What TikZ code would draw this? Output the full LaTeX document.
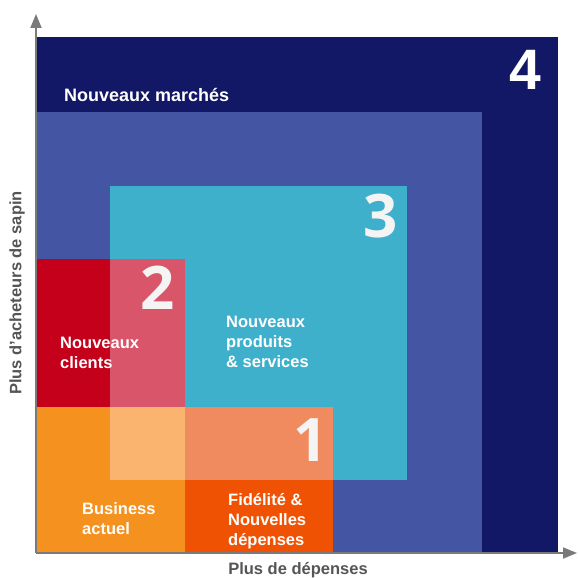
\documentclass[tikz,border=0pt]{standalone}
\usepackage{fontspec}
\setmainfont{Liberation Sans}
\newfontfamily\numfont{Open Sans}
\usepackage{xcolor}
\usepackage{tikz}
\usetikzlibrary{arrows.meta, positioning}
\definecolor{navy}{HTML}{121866}
\definecolor{midblue}{HTML}{4455A4}
\definecolor{cyanzone}{HTML}{3EB0CC}
\definecolor{redzone}{HTML}{C5001A}
\definecolor{pinkzone}{HTML}{D9566A}
\definecolor{orangezone}{HTML}{F5911E}
\definecolor{lightorange}{HTML}{FBB46F}
\definecolor{fireorange}{HTML}{EF5203}
\definecolor{salmon}{HTML}{F08B5F}
\definecolor{axisgray}{HTML}{7A7A7A}
\definecolor{axistext}{HTML}{555555}
\definecolor{numwhite}{HTML}{F4F4F4}

\begin{document}
\begin{tikzpicture}[
    x=1pt, y=-1pt,
    zonetext/.style={text=white, font=\bfseries\fontsize{16.5}{20}\selectfont, align=left, anchor=west, inner sep=0pt},
    bignum/.style={text=numwhite, font=\numfont\bfseries\fontsize{60}{60}\selectfont, inner sep=0pt},
    axislabel/.style={text=axistext, font=\bfseries\fontsize{16.5}{20}\selectfont, inner sep=0pt},
    axis/.style={draw=axisgray, line width=1.8pt, -{Triangle[length=14pt, width=11pt]}}
]
    \useasboundingbox (0,0) rectangle (578,578);

    % Zones
    \fill[navy] (36,37) rectangle (558,553);
    \fill[midblue] (36,112) rectangle (482,553);
    \fill[cyanzone] (110,186) rectangle (407,480);
    \fill[redzone] (36,259) rectangle (185,407);
    \fill[pinkzone] (110,259) rectangle (185,407);
    \fill[orangezone] (36,407) rectangle (185,553);
    \fill[lightorange] (110,407) rectangle (185,480);
    \fill[fireorange] (185,407) rectangle (333,553);
    \fill[salmon] (185,407) rectangle (333,480);

    % Nodes
    \node[zonetext, font=\bfseries\fontsize{18}{20}\selectfont] (markets) at (64,95) {Nouveaux marchés};
    \node[zonetext] (clients) at (60,353) {Nouveaux\\clients};
    \node[zonetext] (products) at (226,342) {Nouveaux\\produits\\\& services};
    \node[zonetext] (business) at (82,519) {Business\\actuel};
    \node[zonetext] (loyalty) at (228,521) {Fidélité \&\\Nouvelles\\dépenses};

    \node[bignum, font=\bfseries\fontsize{57}{57}\selectfont, text=white] (n4) at (525,70) {4};
    \node[bignum] (n3) at (381,216) {3};
    \node[bignum] (n2) at (158,288) {2};
    \node[bignum] (n1) at (311,440) {1};

    % Axes
    \coordinate (origin) at (36,553);
    \coordinate (ytip) at (36,14);
    \coordinate (xtip) at (577,553);
    \path[axis] (origin) -- (ytip);
    \path[axis] (origin) -- (xtip);

    \node[axislabel] (xlabel) at (298,570) {Plus de dépenses};
    \node[axislabel, rotate=90] (ylabel) at (17,293) {Plus d’acheteurs de sapin};

\end{tikzpicture}
\end{document}
